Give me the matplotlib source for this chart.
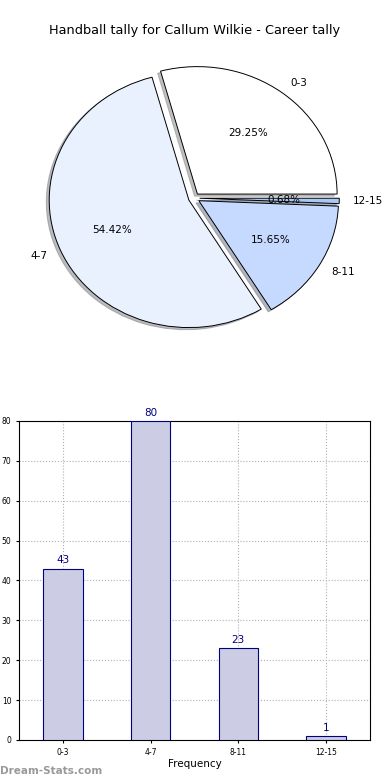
import matplotlib
matplotlib.use("Agg")
import matplotlib.pyplot as plt

# datos del grafico
categorias = ["0-3", "4-7", "8-11", "12-15"]
conteos = [43, 80, 23, 1]
colores_pie = ["#ffffff", "#eaf1fe", "#c6d9ff", "#a8c8f5"]
titulo = "Handball tally for Callum Wilkie - Career tally"

fig = plt.figure(figsize=(3.9, 7.8), dpi=100)
fig.patch.set_facecolor("white")

# titulo arriba
fig.text(0.5, 0.961, titulo, ha="center", va="center", fontsize=9.3)

# pastel (elipse, como en las versiones viejas)
ax1 = fig.add_axes([0.014, 0.5295, 0.967, 0.433])
ax1.pie(conteos, labels=categorias, colors=colores_pie, autopct="%.2f%%",
        explode=[0.04] * len(conteos),
        shadow={"ox": -0.015, "oy": -0.012, "shade": 0.5}, startangle=0,
        wedgeprops={"edgecolor": "black", "linewidth": 0.7},
        textprops={"fontsize": 7.5})
ax1.set_aspect("auto")
ax1.set_xlim(-1.35, 1.35)
ax1.set_ylim(-1.325, 1.325)
ax1.axis("off")

# barras
ax2 = fig.add_axes([0.0487, 0.0513, 0.9, 0.409])
pos = range(len(categorias))
ax2.bar(pos, conteos, width=0.45, color="#cccce5",
        edgecolor="#000080", linewidth=0.8, zorder=3)
for x, v in zip(pos, conteos):
    ax2.text(x, v + 0.8, str(v), ha="center", va="bottom", color="#000080",
             fontsize=7.5)
ax2.set_xlim(-0.5, len(categorias) - 0.5)
ax2.set_ylim(0, 80)
ax2.set_yticks(range(0, 81, 10))
ax2.set_xticks(list(pos))
ax2.set_xticklabels(categorias)
ax2.tick_params(labelsize=5.5, length=2)
ax2.grid(True, linestyle=":", color="#b0b0b0", linewidth=0.8, zorder=0)
ax2.set_xlabel("Frequency", fontsize=7.5, labelpad=2)

fig.text(0.0, 0.012, "Dream-Stats.com", color="#999999", fontsize=7.5,
         fontweight="bold", ha="left", va="center")

plt.savefig("out.png", dpi=100)
